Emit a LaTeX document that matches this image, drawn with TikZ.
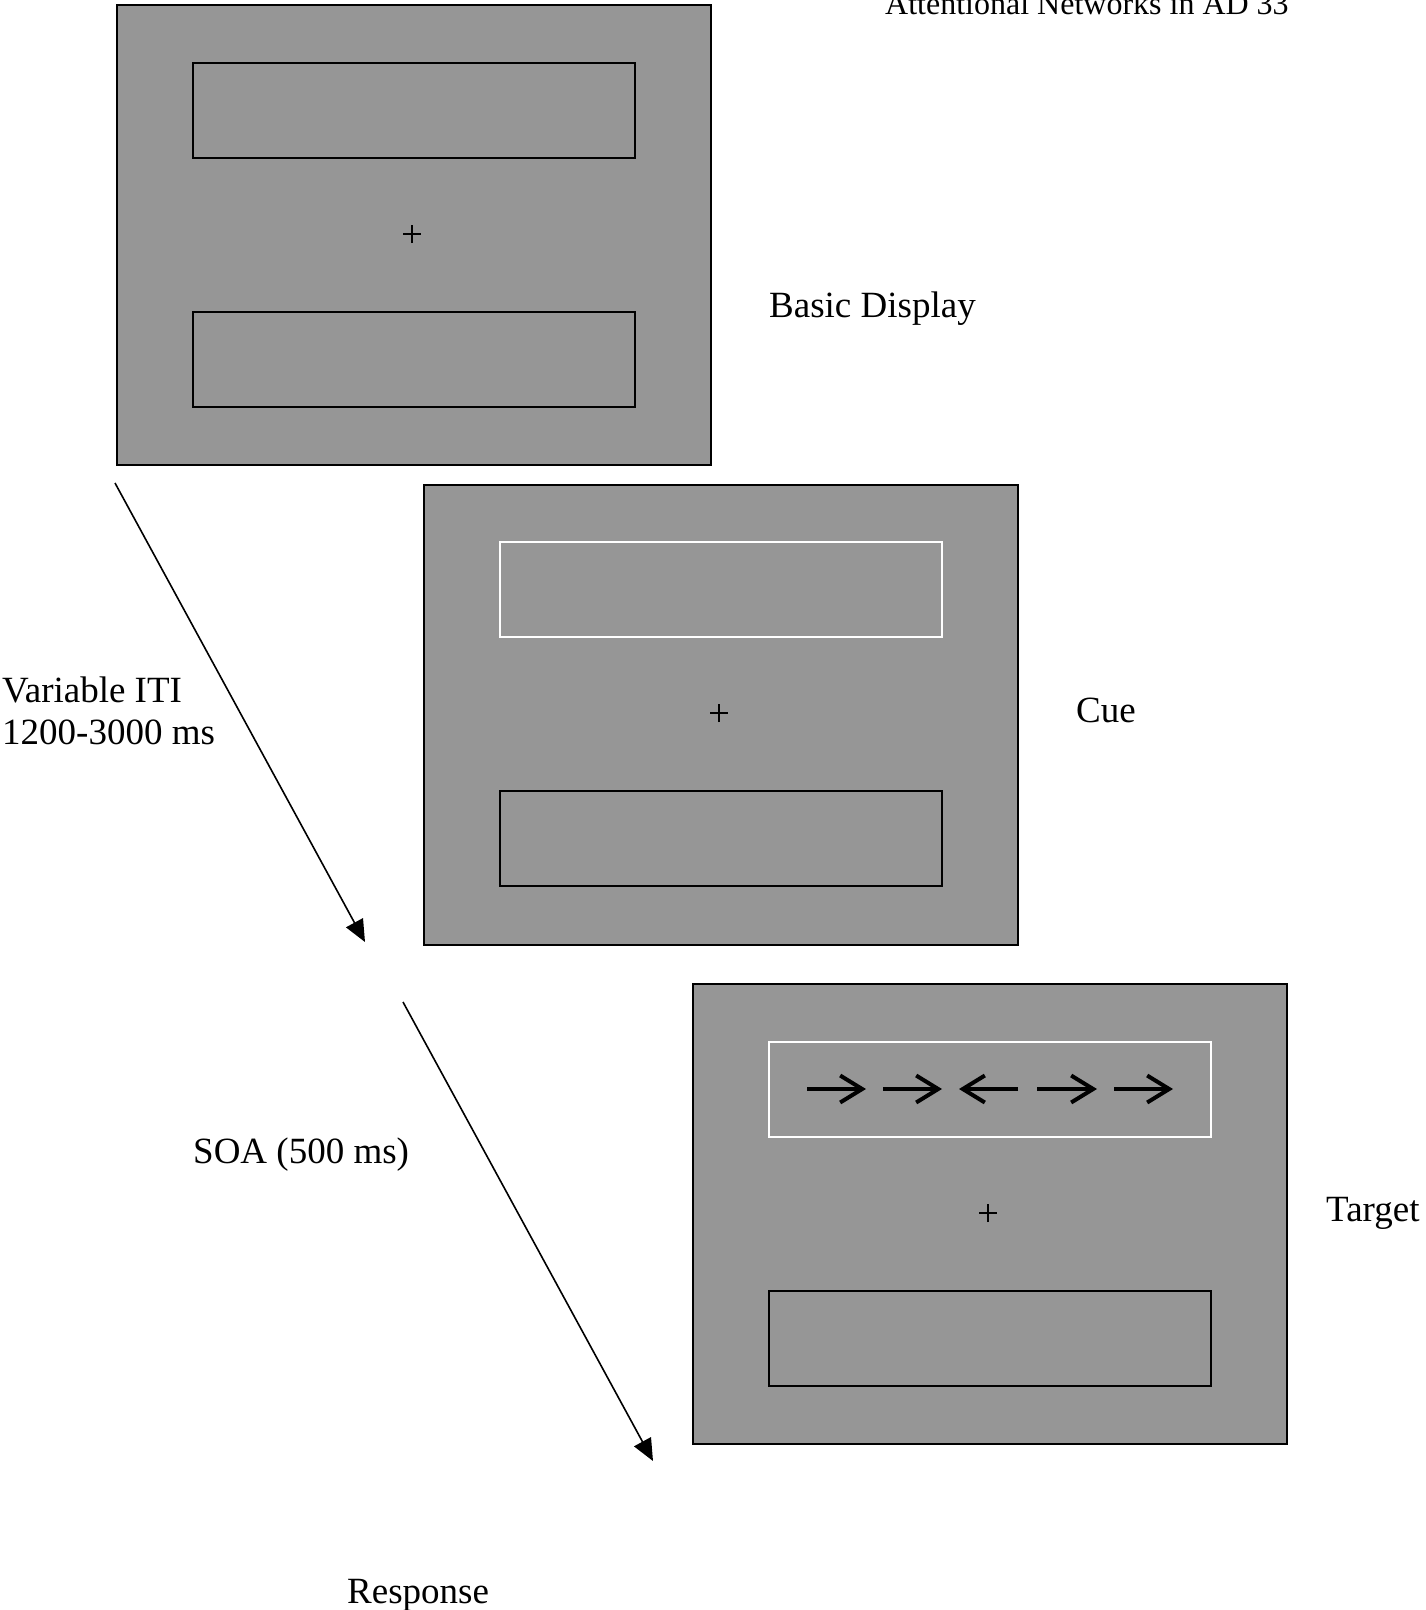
\documentclass[tikz,border=0pt]{standalone}
\usepackage{fontspec}
\setmainfont{Liberation Serif}
\usetikzlibrary{arrows.meta}
\definecolor{panelgray}{RGB}{150,150,150}
\tikzset{
  panel/.style={draw=black, fill=panelgray, line width=2pt, minimum width=594pt, minimum height=460pt, inner sep=0pt, anchor=north west},
  darkbox/.style={draw=black, line width=2pt, minimum width=442pt, minimum height=95pt, inner sep=0pt, anchor=north west},
  lightbox/.style={draw=white, line width=2pt, minimum width=442pt, minimum height=95pt, inner sep=0pt, anchor=north west},
  lbl/.style={font=\fontsize{37}{42}\selectfont, anchor=base west, inner sep=0pt, align=left},
  hdr/.style={font=\fontsize{32}{36}\selectfont, anchor=base west, inner sep=0pt},
  flow/.style={line width=1.6pt, -{Triangle[length=22pt,width=19pt]}},
  flank/.style={line width=4pt, -{Straight Barb[length=22pt,width=27pt,line width=4pt]}},
  fix/.style={line width=1.4pt}
}
\begin{document}
\begin{tikzpicture}[x=1pt,y=-1pt]
\useasboundingbox (0,0) rectangle (1426,1610);

% header
\node[hdr] (header) at (885,14) {Attentional Networks in AD 33};

% panel 1: basic display
\node[panel] (p1) at (116,4) {};
\node[darkbox] (p1top) at (192,62) {};
\node[darkbox] (p1bot) at (192,311) {};
\coordinate (p1fix) at (412,234);
\draw[fix] ([xshift=-9pt]p1fix) -- ([xshift=9pt]p1fix) ([yshift=-9pt]p1fix) -- ([yshift=9pt]p1fix);
\node[lbl] (basic) at (769,317) {Basic Display};

% panel 2: cue
\node[panel] (p2) at (423,484) {};
\node[lightbox] (p2top) at (499,541) {};
\node[darkbox] (p2bot) at (499,790) {};
\coordinate (p2fix) at (719,713);
\draw[fix] ([xshift=-9pt]p2fix) -- ([xshift=9pt]p2fix) ([yshift=-9pt]p2fix) -- ([yshift=9pt]p2fix);
\node[lbl] (cue) at (1076,722) {Cue};

% panel 3: target
\node[panel] (p3) at (692,983) {};
\node[lightbox] (p3top) at (768,1041) {};
\node[darkbox] (p3bot) at (768,1290) {};
\coordinate (p3fix) at (988,1213);
\draw[fix] ([xshift=-9pt]p3fix) -- ([xshift=9pt]p3fix) ([yshift=-9pt]p3fix) -- ([yshift=9pt]p3fix);
\node[lbl] (target) at (1326,1221) {Target};

% flanker arrows
\coordinate (a1s) at (807,1089); \coordinate (a1e) at (866,1089);
\coordinate (a2s) at (883,1089); \coordinate (a2e) at (942,1089);
\coordinate (a3s) at (1018,1089); \coordinate (a3e) at (959,1089);
\coordinate (a4s) at (1037,1089); \coordinate (a4e) at (1097,1089);
\coordinate (a5s) at (1114,1089); \coordinate (a5e) at (1173,1089);
\draw[flank] (a1s) -- (a1e);
\draw[flank] (a2s) -- (a2e);
\draw[flank] (a3s) -- (a3e);
\draw[flank] (a4s) -- (a4e);
\draw[flank] (a5s) -- (a5e);

% flow arrows
\coordinate (f1s) at (115,483); \coordinate (f1e) at (365,942);
\coordinate (f2s) at (403,1002); \coordinate (f2e) at (653,1461);
\draw[flow] (f1s) -- (f1e);
\draw[flow] (f2s) -- (f2e);

% labels
\node[lbl] (iti) at (2,702) {Variable ITI};
\node[lbl] (iti2) at (2,744) {1200-3000 ms};
\node[lbl] (soa) at (193,1163) {SOA (500 ms)};
\node[lbl] (resp) at (347,1603) {Response};
\end{tikzpicture}
\end{document}
